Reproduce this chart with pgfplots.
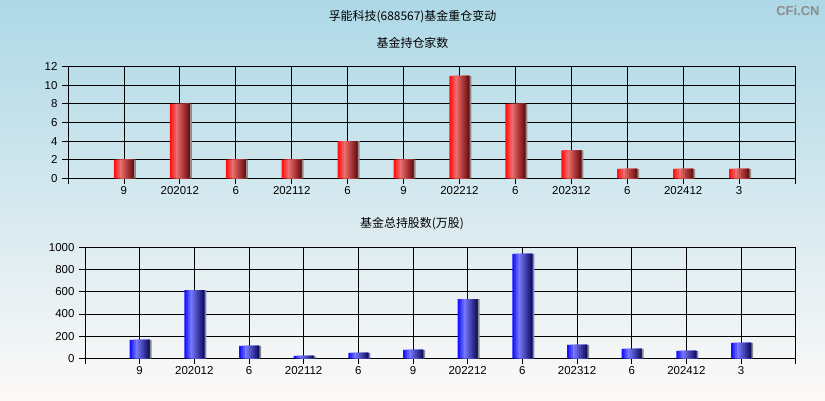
\documentclass[border=0pt]{standalone}
\usepackage{pgfplots}
\usepackage{pgfplotstable}
\pgfplotsset{compat=1.18}
\usepackage{fontspec}
\setmainfont{Liberation Sans}
\newfontfamily\cjk{Noto Sans CJK SC}
\definecolor{bgtop}{RGB}{173,216,230}
\definecolor{bgbot}{RGB}{253,249,248}
\definecolor{rL}{RGB}{255,20,20}
\definecolor{rM}{RGB}{238,110,110}
\definecolor{rR}{RGB}{115,18,18}
\definecolor{bL}{RGB}{20,20,255}
\definecolor{bM}{RGB}{120,120,255}
\definecolor{bR}{RGB}{20,20,105}
\definecolor{shad}{RGB}{140,140,140}

\pgfplotstableread{
x y
0 2
1 8
2 2
3 2
4 4
5 2
6 11
7 8
8 3
9 1
10 1
11 1
}\topdata
\pgfplotstableread{
x y
0 165
1 615
2 111
3 21
4 48
5 75
6 534
7 940
8 120
9 84
10 66
11 138
}\botdata

% slice{shift}{width}{color}{data}
\newcommand\slice[4]{\addplot[ybar, bar width=#2bp, bar shift=#1bp, fill=#3, draw=none] table[x=x,y=y] {#4};}
\newcommand\gradbars[4]{% data, L, M, R
  \addplot[ybar, bar width=3bp, bar shift=10.5bp, fill=shad, draw=none] table[x=x,y=y] {#1};
  \slice{0}{20}{#2}{#1}
  \slice{1}{18}{#3!33!#2}{#1}
  \slice{2}{16}{#3!67!#2}{#1}
  \slice{3}{14}{#3}{#1}
  \slice{4}{12}{#4!17!#3}{#1}
  \slice{5}{10}{#4!33!#3}{#1}
  \slice{6}{8}{#4!50!#3}{#1}
  \slice{7}{6}{#4!67!#3}{#1}
  \slice{8}{4}{#4!83!#3}{#1}
  \slice{9}{2}{#4}{#1}
}

\pgfplotsset{
  mystyle/.style={
    scale only axis,
    xmin=-1, xmax=12,
    xtick={0,...,11},
    xticklabels={9,202012,6,202112,6,9,202212,6,202312,6,202412,3},
    extra x ticks={-1,12},
    extra x tick labels={},
    ymin=0,
    grid=major,
    major grid style={black, line width=0.8bp},
    axis line style={black, line width=0.8bp},
    tick style={black, line width=0.8bp},
    tick align=outside,
    tick pos=left,
    major tick length=6bp,
    ticklabel style={font=\fontsize{11.5}{12}\selectfont},
    /pgf/number format/assume math mode=true,
    /pgf/number format/1000 sep={},
    xticklabel style={yshift=1bp},
    yticklabel style={xshift=-1bp},
  }
}
\begin{document}
\begin{tikzpicture}[x=1bp,y=1bp]
\shade[top color=bgtop, bottom color=bgbot] (0,0) rectangle (825,400);
\useasboundingbox (0,0) rectangle (825,400);
\node[font=\cjk\fontsize{12}{12}\selectfont] at (412.5,383) {孚能科技(688567)基金重仓变动};
\node[font=\cjk\fontsize{12}{12}\selectfont] at (412.5,357) {基金持仓家数};
\node[font=\cjk\fontsize{12}{12}\selectfont] at (412,176) {基金总持股数(万股)};
\node[font=\bfseries\fontsize{13}{13}\selectfont, text=shad, anchor=east] at (823,389) {CFi.CN};

\begin{axis}[mystyle,
  at={(68bp,221.7bp)}, anchor=south west,
  width=727bp, height=111.6bp,
  ymax=12, ytick={0,2,...,12}]
\gradbars{\topdata}{rL}{rM}{rR}
\end{axis}

\begin{axis}[mystyle,
  at={(85bp,41.7bp)}, anchor=south west,
  width=710.7bp, height=111bp,
  ymax=1000, ytick={0,200,...,1000}]
\gradbars{\botdata}{bL}{bM}{bR}
\end{axis}
\end{tikzpicture}
\end{document}
